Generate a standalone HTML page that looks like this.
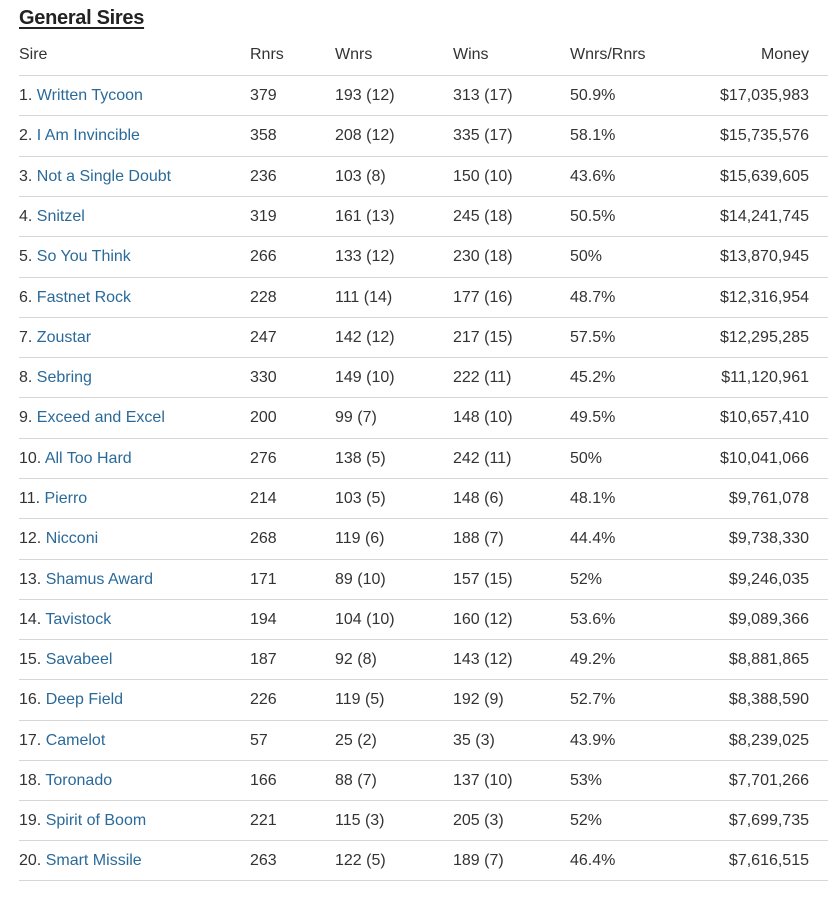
<!DOCTYPE html>
<html><head><meta charset="utf-8"><style>
body{margin:0;width:831px;height:887px;background:#fff;font-family:"Liberation Sans",sans-serif;color:#333;position:relative;overflow:hidden}
.t{position:absolute;left:19px;top:7px;font-size:20px;font-weight:600;color:#222;text-decoration:underline;text-underline-offset:3px;letter-spacing:-0.3px}
.r{position:absolute;left:19px;width:809px;height:40px;border-top:1px solid #d6d6d6;font-size:16px}
.r span{position:absolute;top:11px;white-space:nowrap}
.h span{top:-30px}
.c1{left:0}.c2{left:231px}.c3{left:316px}.c4{left:434px}.c5{left:551px}.c6{right:19px}
a{color:#2a6a9a;text-decoration:none}
</style></head><body>
<div class="t">General Sires</div>
<div class="r h" style="top:75px"><span class="c1">Sire</span><span class="c2">Rnrs</span><span class="c3">Wnrs</span><span class="c4">Wins</span><span class="c5">Wnrs/Rnrs</span><span class="c6">Money</span></div>
<div class="r" style="top:75px"><span class="c1">1. <a>Written Tycoon</a></span><span class="c2">379</span><span class="c3">193 (12)</span><span class="c4">313 (17)</span><span class="c5">50.9%</span><span class="c6">$17,035,983</span></div>
<div class="r" style="top:115px"><span class="c1">2. <a>I Am Invincible</a></span><span class="c2">358</span><span class="c3">208 (12)</span><span class="c4">335 (17)</span><span class="c5">58.1%</span><span class="c6">$15,735,576</span></div>
<div class="r" style="top:156px"><span class="c1">3. <a>Not a Single Doubt</a></span><span class="c2">236</span><span class="c3">103 (8)</span><span class="c4">150 (10)</span><span class="c5">43.6%</span><span class="c6">$15,639,605</span></div>
<div class="r" style="top:196px"><span class="c1">4. <a>Snitzel</a></span><span class="c2">319</span><span class="c3">161 (13)</span><span class="c4">245 (18)</span><span class="c5">50.5%</span><span class="c6">$14,241,745</span></div>
<div class="r" style="top:236px"><span class="c1">5. <a>So You Think</a></span><span class="c2">266</span><span class="c3">133 (12)</span><span class="c4">230 (18)</span><span class="c5">50%</span><span class="c6">$13,870,945</span></div>
<div class="r" style="top:277px"><span class="c1">6. <a>Fastnet Rock</a></span><span class="c2">228</span><span class="c3">111 (14)</span><span class="c4">177 (16)</span><span class="c5">48.7%</span><span class="c6">$12,316,954</span></div>
<div class="r" style="top:317px"><span class="c1">7. <a>Zoustar</a></span><span class="c2">247</span><span class="c3">142 (12)</span><span class="c4">217 (15)</span><span class="c5">57.5%</span><span class="c6">$12,295,285</span></div>
<div class="r" style="top:357px"><span class="c1">8. <a>Sebring</a></span><span class="c2">330</span><span class="c3">149 (10)</span><span class="c4">222 (11)</span><span class="c5">45.2%</span><span class="c6">$11,120,961</span></div>
<div class="r" style="top:397px"><span class="c1">9. <a>Exceed and Excel</a></span><span class="c2">200</span><span class="c3">99 (7)</span><span class="c4">148 (10)</span><span class="c5">49.5%</span><span class="c6">$10,657,410</span></div>
<div class="r" style="top:438px"><span class="c1">10. <a>All Too Hard</a></span><span class="c2">276</span><span class="c3">138 (5)</span><span class="c4">242 (11)</span><span class="c5">50%</span><span class="c6">$10,041,066</span></div>
<div class="r" style="top:478px"><span class="c1">11. <a>Pierro</a></span><span class="c2">214</span><span class="c3">103 (5)</span><span class="c4">148 (6)</span><span class="c5">48.1%</span><span class="c6">$9,761,078</span></div>
<div class="r" style="top:518px"><span class="c1">12. <a>Nicconi</a></span><span class="c2">268</span><span class="c3">119 (6)</span><span class="c4">188 (7)</span><span class="c5">44.4%</span><span class="c6">$9,738,330</span></div>
<div class="r" style="top:559px"><span class="c1">13. <a>Shamus Award</a></span><span class="c2">171</span><span class="c3">89 (10)</span><span class="c4">157 (15)</span><span class="c5">52%</span><span class="c6">$9,246,035</span></div>
<div class="r" style="top:599px"><span class="c1">14. <a>Tavistock</a></span><span class="c2">194</span><span class="c3">104 (10)</span><span class="c4">160 (12)</span><span class="c5">53.6%</span><span class="c6">$9,089,366</span></div>
<div class="r" style="top:639px"><span class="c1">15. <a>Savabeel</a></span><span class="c2">187</span><span class="c3">92 (8)</span><span class="c4">143 (12)</span><span class="c5">49.2%</span><span class="c6">$8,881,865</span></div>
<div class="r" style="top:679px"><span class="c1">16. <a>Deep Field</a></span><span class="c2">226</span><span class="c3">119 (5)</span><span class="c4">192 (9)</span><span class="c5">52.7%</span><span class="c6">$8,388,590</span></div>
<div class="r" style="top:720px"><span class="c1">17. <a>Camelot</a></span><span class="c2">57</span><span class="c3">25 (2)</span><span class="c4">35 (3)</span><span class="c5">43.9%</span><span class="c6">$8,239,025</span></div>
<div class="r" style="top:760px"><span class="c1">18. <a>Toronado</a></span><span class="c2">166</span><span class="c3">88 (7)</span><span class="c4">137 (10)</span><span class="c5">53%</span><span class="c6">$7,701,266</span></div>
<div class="r" style="top:800px"><span class="c1">19. <a>Spirit of Boom</a></span><span class="c2">221</span><span class="c3">115 (3)</span><span class="c4">205 (3)</span><span class="c5">52%</span><span class="c6">$7,699,735</span></div>
<div class="r" style="top:840px"><span class="c1">20. <a>Smart Missile</a></span><span class="c2">263</span><span class="c3">122 (5)</span><span class="c4">189 (7)</span><span class="c5">46.4%</span><span class="c6">$7,616,515</span></div>
<div class="r" style="top:880px"></div>
</body></html>
